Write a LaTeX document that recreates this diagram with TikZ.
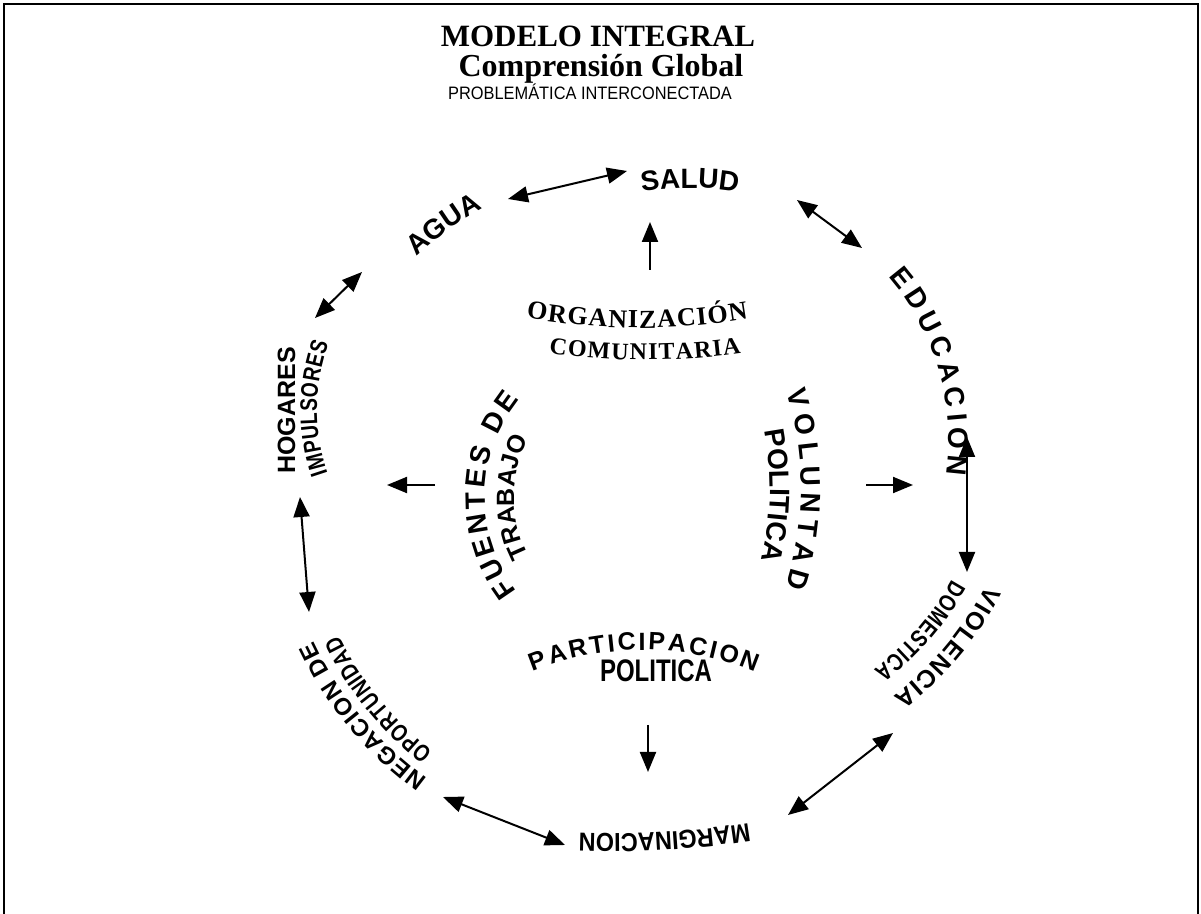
\documentclass[tikz,border=0pt]{standalone}
\usepackage{fontspec}
\setmainfont{Liberation Serif}
\newfontfamily\lsans{Liberation Sans}
\newfontfamily\lcond[FakeStretch=0.8]{Liberation Sans}
\newfontfamily\lcondb[FakeStretch=0.9]{Liberation Sans}
\newfontfamily\lserif{Liberation Serif}
\usetikzlibrary{decorations.text,arrows.meta}

\newcommand\fSxiv{\lsans\bfseries\fontsize{14}{14}\selectfont}
\newcommand\fSxiiih{\lsans\bfseries\fontsize{12.5}{12.5}\selectfont}
\newcommand\fSxii{\lsans\bfseries\fontsize{12}{12}\selectfont}
\newcommand\fCxii{\lcond\bfseries\fontsize{12}{12}\selectfont}
\newcommand\fCxiii{\lcondb\bfseries\fontsize{13}{13}\selectfont}
\newcommand\fRxiii{\lserif\bfseries\fontsize{13}{13}\selectfont}
\newcommand\fRxii{\lserif\bfseries\fontsize{12}{12}\selectfont}

% #1 centre coordinate, #2 radius, #3 start angle, #4 end angle, #5 align, #6 text
\newcommand\arclabel[6]{%
  \path[decorate,decoration={text along path,text align={#5},text={#6}}]
    ([shift={(#3:#2)}]#1) arc[start angle=#3,end angle=#4,radius=#2];}

\tikzset{
  conn/.style={line width=1pt},
  dbl/.style={conn,{Triangle[length=10pt,width=8pt]}-{Triangle[length=10pt,width=8pt]}},
  sgl/.style={conn,-{Triangle[length=10pt,width=8pt]}},
  frame/.style={line width=1pt},
  title/.style={anchor=base,inner sep=0pt,font=\lserif\bfseries\fontsize{15.5}{15.5}\selectfont},
}

\begin{document}
\begin{tikzpicture}[x=0.5pt,y=-0.5pt]
\useasboundingbox (0,0) rectangle (1201,914);
\draw[frame] (4,914) -- (4,4) -- (1198,4) -- (1198,914);

% titles
\node[title] (t1) at (598,47) {MODELO INTEGRAL};
\node[title,font=\lserif\bfseries\fontsize{16}{16}\selectfont] (t2) at (601,77) {Comprensión Global};
\node[anchor=base,font=\lsans\fontsize{9}{9}\selectfont,inner sep=0pt] (t3) at (590,100) {\scalebox{0.91}[1]{PROBLEMÁTICA INTERCONECTADA}};

% centres of the curved labels
\coordinate (cSalud) at (690,485);
\coordinate (cRing) at (637,490);
\coordinate (cRight) at (700,440);
\coordinate (cMarg) at (610,-53);
\coordinate (cImp) at (511,410);
\coordinate (cOrg) at (640,-309);
\coordinate (cCom) at (645,-331);
\coordinate (cFue) at (640,497);
\coordinate (cVol) at (472,488);
\coordinate (cPar) at (643,944);

% outer labels
\arclabel{cSalud}{297}{-102}{-78}{center}{|\fSxiv|SALUD}
\arclabel{cRing}{321}{-141}{-111}{center}{|\fSxiv|AGUA}
\arclabel{cRight}{249}{-41}{8}{fit to path}{|\fSxiv|EDUCACION}
\arclabel{cRight}{321}{27}{53}{fit to path}{|\fSxiiih|VIOLENCIA}
\arclabel{cRight}{288}{29}{53}{fit to path}{|\fCxii|DOMESTICA}
\arclabel{cMarg}{887}{80.5}{92.5}{center}{|\fCxiii|MARGINACION}
\arclabel{cRing}{357}{126}{155}{fit to path}{|\fSxii|NEGACION DE}
\arclabel{cRing}{332}{128}{154}{fit to path}{|\fCxii|OPORTUNIDAD}
\coordinate (hogS) at (295,478);
\coordinate (hogE) at (295,343);
\path[decorate,decoration={text along path,text align={center},text={|\fSxiiih|HOGARES}}] (hogS) -- (hogE);
\arclabel{cImp}{194}{161}{200}{fit to path}{|\fCxii|IMPULSORES}

% inner labels
\arclabel{cOrg}{637}{100.3}{80.2}{fit to path}{|\fRxiii|ORGANIZACIÓN}
\arclabel{cCom}{691}{98}{82}{fit to path}{|\fRxii|COMUNITARIA}
\arclabel{cFue}{155}{142.5}{219}{fit to path}{|\fSxiv|FUENTES DE}
\arclabel{cFue}{126}{150}{210}{center}{|\fSxiiih|TRABAJO}
\arclabel{cVol}{329}{-17}{17.5}{fit to path}{|\fSxiv|VOLUNTAD}
\arclabel{cVol}{298}{-12.5}{15.5}{center}{|\fSxiv|POLITICA}
\arclabel{cPar}{294}{-112}{-67.5}{fit to path}{|\fSxiiih|PARTICIPACION}
\node[anchor=base,font=\fSxii,inner sep=0pt] (pol2) at (656,682) {\scalebox{1}[1.3]{POLITICA}};

% connector end points
\coordinate (a1s) at (508,199); \coordinate (a1e) at (627,171);
\coordinate (a2s) at (650,270); \coordinate (a2e) at (650,222);
\coordinate (a3s) at (797,200); \coordinate (a3e) at (862,248);
\coordinate (a4s) at (315,318); \coordinate (a4e) at (362,272);
\coordinate (a5s) at (435,485); \coordinate (a5e) at (387,485);
\coordinate (a6s) at (300,497); \coordinate (a6e) at (309,612);
\coordinate (a7s) at (443,797); \coordinate (a7e) at (565,845);
\coordinate (a8s) at (648,725); \coordinate (a8e) at (648,772);
\coordinate (a9s) at (788,815); \coordinate (a9e) at (893,733);
\coordinate (a10s) at (866,485); \coordinate (a10e) at (913,485);
\coordinate (a11s) at (967,437); \coordinate (a11e) at (967,572);

\draw[dbl] (a1s) -- (a1e);
\draw[sgl] (a2s) -- (a2e);
\draw[dbl] (a3s) -- (a3e);
\draw[dbl] (a4s) -- (a4e);
\draw[sgl] (a5s) -- (a5e);
\draw[dbl] (a6s) -- (a6e);
\draw[dbl] (a7s) -- (a7e);
\draw[sgl] (a8s) -- (a8e);
\draw[dbl] (a9s) -- (a9e);
\draw[sgl] (a10s) -- (a10e);
\draw[dbl] (a11s) -- (a11e);
\end{tikzpicture}
\end{document}
